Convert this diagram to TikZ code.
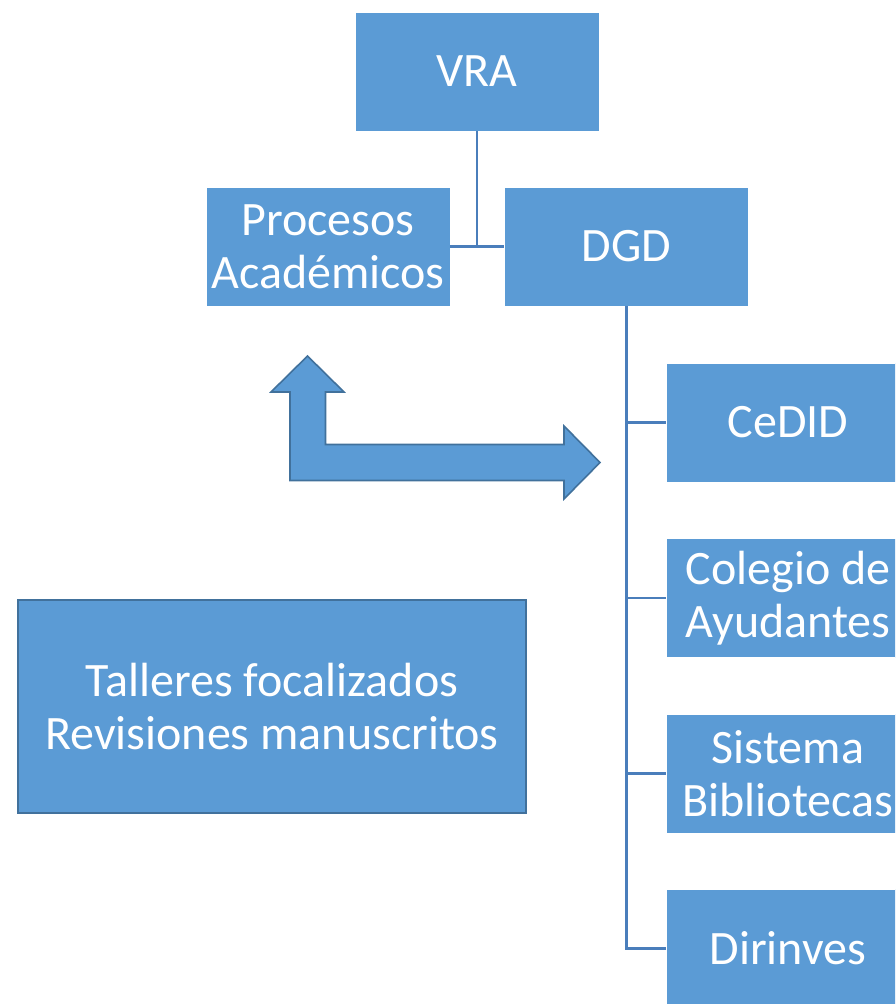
\documentclass[tikz,border=0pt]{standalone}
\usepackage{fontspec}
\setmainfont{Carlito}
\definecolor{boxfill}{HTML}{5B9BD5}
\definecolor{boxline}{HTML}{41719C}
\definecolor{conn}{HTML}{4A7EBB}
\begin{document}
\begin{tikzpicture}[x=1pt,y=-1pt,
  orgbox/.style={rectangle, fill=boxfill, draw=white, line width=0.6pt, minimum width=244pt, minimum height=119pt, inner sep=0pt, text=white, align=center, font=\fontsize{48}{53}\selectfont},
  bigbox/.style={orgbox, draw=boxline, line width=2pt, minimum width=508pt, minimum height=213pt},
  link/.style={draw=conn, line width=2.5pt}]
\useasboundingbox (0,0) rectangle (895,1004);
\clip (0,0) rectangle (895,1004);
\node[orgbox] (vra) at (477,71.5) {VRA};
\node[orgbox] (proc) at (328,246.5) {Procesos\\Académicos};
\node[orgbox] (dgd) at (626.5,246.5) {DGD};
\node[orgbox] (cedid) at (788,422.5) {CeDID};
\node[orgbox] (coleg) at (788,598) {Colegio de\\Ayudantes};
\node[orgbox] (sist) at (788,773.5) {Sistema\\Bibliotecas};
\node[orgbox] (dirin) at (788,948.5) {Dirinves};
\node[bigbox] (tall) at (272,706.5) {Talleres focalizados\\Revisiones manuscritos};
\draw[link] (vra.south) -- (vra.south |- proc.east);
\draw[link] (proc.east) -- (dgd.west);
\draw[link] (dgd.south) |- (dirin.west);
\draw[link] (dgd.south |- cedid.west) -- (cedid.west);
\draw[link] (dgd.south |- coleg.west) -- (coleg.west);
\draw[link] (dgd.south |- sist.west) -- (sist.west);
\draw[fill=boxfill, draw=boxline, line width=1.6pt, line join=miter]
  (307.5,356) -- (344,392) -- (325.5,392) -- (325.5,444.5) -- (564,444.5) -- (564,426)
  -- (600,462.5) -- (564,499) -- (564,480.5) -- (290,480.5) -- (290,392) -- (271,392) -- cycle;
\end{tikzpicture}
\end{document}
